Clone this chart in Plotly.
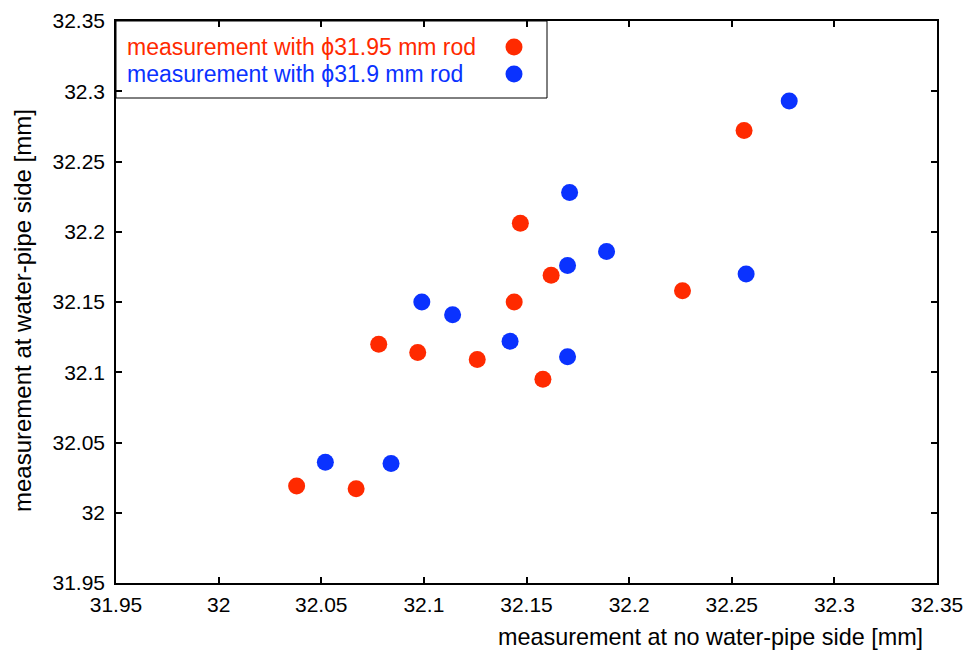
import plotly.graph_objects as go

# data
red_x = [32.038, 32.067, 32.078, 32.097, 32.126, 32.144, 32.147, 32.158, 32.162, 32.226, 32.256]
red_y = [32.019, 32.017, 32.120, 32.114, 32.109, 32.150, 32.206, 32.095, 32.169, 32.158, 32.272]
blue_x = [32.052, 32.084, 32.099, 32.114, 32.142, 32.170, 32.170, 32.171, 32.189, 32.257, 32.278]
blue_y = [32.036, 32.035, 32.150, 32.141, 32.122, 32.111, 32.176, 32.228, 32.186, 32.170, 32.293]
red_name = "measurement with \u03d531.95 mm rod"
blue_name = "measurement with \u03d531.9 mm rod"
ticks = [31.95, 32, 32.05, 32.1, 32.15, 32.2, 32.25, 32.3, 32.35]
tick_text = ["31.95", "32", "32.05", "32.1", "32.15", "32.2", "32.25", "32.3", "32.35"]

RED = "#FF2A00"
BLUE = "#0A32FF"
FONT = "Liberation Sans, Arial, Helvetica, sans-serif"

# page body has an 8px margin; figure is placed at (8, 8)
OFF = 8
W, H = 973 - OFF, 654 - OFF
L, R, T, B = 116 - OFF, 36, 21 - OFF, 71
pw, ph = W - L - R, H - T - B

def px(x):  # screen pixel -> paper
    return (x - OFF - L) / pw

def py(y):
    return (H - B - (y - OFF)) / ph

fig = go.Figure()
fig.add_trace(go.Scatter(x=red_x, y=red_y, mode="markers", name=red_name,
                         marker=dict(color=RED, size=17, line=dict(width=0))))
fig.add_trace(go.Scatter(x=blue_x, y=blue_y, mode="markers", name=blue_name,
                         marker=dict(color=BLUE, size=17, line=dict(width=0))))

axis_common = dict(
    range=[31.95, 32.35], tickvals=ticks, ticktext=tick_text,
    ticks="inside", ticklen=6, tickwidth=1.5, tickcolor="black",
    showline=True, linecolor="black", linewidth=1.5, mirror="ticks",
    showgrid=False, zeroline=False, automargin=False,
    tickfont=dict(family=FONT, size=21, color="black"),
)
fig.update_xaxes(**axis_common, ticklabelstandoff=2)
fig.update_yaxes(**axis_common, ticklabelstandoff=5)

shapes = [
    dict(type="rect", xref="paper", yref="paper", x0=0, x1=px(547), y0=py(98), y1=1,
         line=dict(color="black", width=1), fillcolor="white", layer="below"),
]
for yy, col in [(47, RED), (74, BLUE)]:
    shapes.append(dict(type="circle", xref="paper", yref="paper",
                       xsizemode="pixel", ysizemode="pixel",
                       xanchor=px(514), yanchor=py(yy),
                       x0=-8.5, x1=8.5, y0=-8.5, y1=8.5,
                       fillcolor=col, line=dict(width=0)))

annotations = [
    dict(text=red_name, xref="paper", yref="paper", x=px(125), y=py(47),
         xanchor="left", yanchor="middle", showarrow=False,
         font=dict(family=FONT, size=23, color=RED)),
    dict(text=blue_name, xref="paper", yref="paper", x=px(125), y=py(74),
         xanchor="left", yanchor="middle", showarrow=False,
         font=dict(family=FONT, size=23, color=BLUE)),
    dict(text="measurement at no water-pipe side [mm]", xref="paper", yref="paper",
         x=px(710), y=py(637), xanchor="center", yanchor="middle", showarrow=False,
         font=dict(family=FONT, size=23.4, color="black")),
    dict(text="measurement at water-pipe side [mm]", xref="paper", yref="paper",
         x=px(22), y=py(311), xanchor="center", yanchor="middle", showarrow=False,
         textangle=-90, font=dict(family=FONT, size=24, color="black")),
]

fig.update_layout(
    width=W, height=H, autosize=False,
    margin=dict(l=L, r=R, t=T, b=B, pad=0, autoexpand=False),
    paper_bgcolor="white", plot_bgcolor="white",
    showlegend=False, shapes=shapes, annotations=annotations,
)

fig.write_html("out.html")
